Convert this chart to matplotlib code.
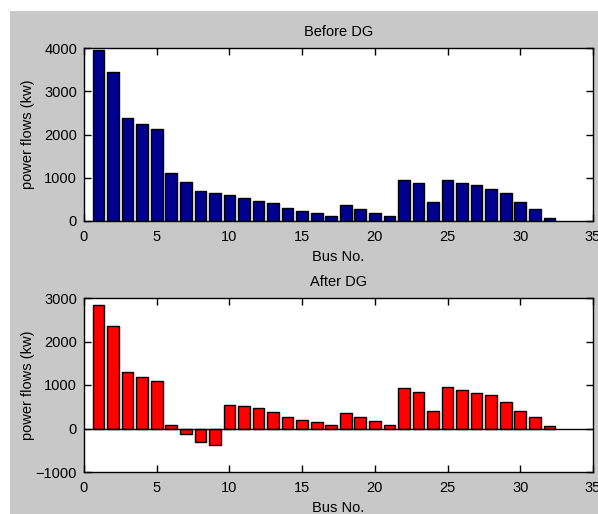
import numpy as np
import matplotlib.pyplot as plt
from matplotlib.patches import Rectangle

# flujos de potencia por bus
buses = list(range(1, 33))
antes_dg = [3950, 3440, 2380, 2240, 2120, 1100, 900, 700, 640, 590,
            530, 470, 410, 300, 240, 180, 120, 370, 280, 190,
            110, 950, 870, 430, 950, 890, 840, 750, 640, 430,
            285, 80]
despues_dg = [2840, 2350, 1310, 1190, 1100, 80, -120, -320, -380, 550,
              520, 460, 370, 260, 200, 140, 80, 350, 260, 180,
              90, 930, 850, 410, 960, 880, 820, 760, 610, 410,
              260, 60]

xticks = [0, 5, 10, 15, 20, 25, 30, 35]

plt.rcParams['font.family'] = ['Liberation Sans', 'DejaVu Sans']
tam = 10.5

fig = plt.figure(figsize=(5.98, 5.14), dpi=100, facecolor='white')
# fondo gris estilo MATLAB (con margen blanco arriba e izquierda)
fig.patches.append(Rectangle((10 / 598, 0), 1, 1 - 11 / 514, transform=fig.transFigure,
                             facecolor='#c8c8c8', edgecolor='none', zorder=-10))

ax1 = fig.add_axes([84 / 598, 1 - 221 / 514, 509 / 598, 173 / 514])
ax2 = fig.add_axes([84 / 598, 1 - 472 / 514, 509 / 598, 174 / 514])


def dibujar(ax, valores, color, titulo, ylim, yticks):
    ax.bar(buses, valores, width=0.8, color=color, edgecolor='black', linewidth=1.0, zorder=2)
    ax.set_xlim(0, 35)
    ax.set_ylim(*ylim)
    ax.set_xticks(xticks)
    ax.set_yticks(yticks)
    ax.tick_params(direction='in', top=True, right=True, length=5, width=1, pad=5,
                   labelsize=tam, colors='black')
    ax.tick_params(axis='x', pad=6.5)
    for s in ax.spines.values():
        s.set_linewidth(1.0)
    ax.set_title(titulo, fontsize=tam, pad=9)
    ax.set_xlabel('Bus No.', fontsize=tam, labelpad=4)
    ax.set_ylabel('power flows (kw)', fontsize=tam)
    ax.yaxis.set_label_coords(-0.097, 0.5)
    ax.set_facecolor('white')


dibujar(ax1, antes_dg, '#00008f', 'Before DG', (0, 4000), [0, 1000, 2000, 3000, 4000])
dibujar(ax2, despues_dg, '#ff0000', 'After DG', (-1000, 3000), [-1000, 0, 1000, 2000, 3000])
ax2.axhline(0, color='black', linewidth=1.0, zorder=3)

fig.savefig('out.png', dpi=100, facecolor=fig.get_facecolor())
